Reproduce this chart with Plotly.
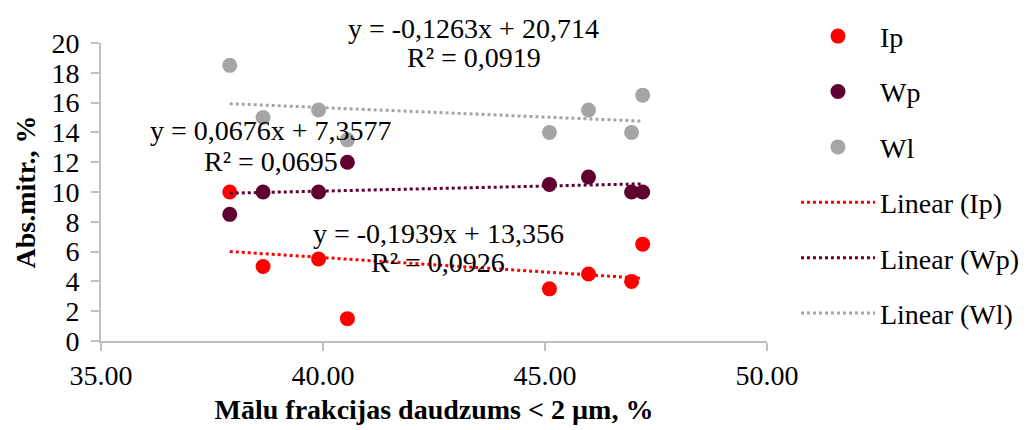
import plotly.graph_objects as go

# Clay fraction content (< 2 µm), %
clay = [37.9, 38.65, 39.9, 40.55, 45.1, 45.98, 46.95, 47.2]

# Moisture indices, %
ip = [10.0, 5.0, 5.5, 1.5, 3.5, 4.5, 4.0, 6.5]
wp = [8.5, 10.0, 10.0, 12.0, 10.5, 11.0, 10.0, 10.0]
wl = [18.5, 15.0, 15.5, 13.5, 14.0, 15.5, 14.0, 16.5]

# Linear trend coefficients (slope, intercept) and R²
fit_ip = (-0.1939, 13.356, 0.0926)
fit_wp = (0.0676, 7.3577, 0.0695)
fit_wl = (-0.1263, 20.714, 0.0919)

C_IP = "#FF0000"
C_WP = "#600030"
C_WL = "#A5A5A5"
FONT = "Liberation Serif"
FS = 28

series = [("Ip", ip, C_IP, fit_ip), ("Wp", wp, C_WP, fit_wp), ("Wl", wl, C_WL, fit_wl)]

fig = go.Figure()

for name, vals, col, _ in series:
    fig.add_trace(go.Scatter(
        x=clay, y=vals, mode="markers", name=name, legendgroup=name,
        marker=dict(color=col, size=15, line=dict(width=0)),
    ))

xmin, xmax = min(clay), max(clay)
for name, vals, col, (k, b, r2) in series:
    fig.add_trace(go.Scatter(
        x=[xmin, xmax], y=[k * xmin + b, k * xmax + b], mode="lines",
        name=f"Linear ({name})", legendgroup="L" + name,
        line=dict(color=col, width=3, dash="dot"),
    ))


def fmt(v, nd):
    return f"{v:.{nd}f}".replace(".", ",")


def eq_text(k, b, kd, bd):
    sign = "+" if b >= 0 else "-"
    return f"y = {fmt(k, kd)}x {sign} {fmt(abs(b), bd)}"


# equation label placement: x in data units, y in paper units
labels = [
    (fit_wl, 4, 3, 43.4, 1.050, 0.953),
    (fit_wp, 4, 4, 38.83, 0.708, 0.601),
    (fit_ip, 4, 3, 42.6, 0.362, 0.262),
]
for (k, b, r2), kd, bd, xc, y1, y2 in labels:
    for yy, txt in ((y1, eq_text(k, b, kd, bd)), (y2, f"R² = {fmt(r2, 4)}")):
        fig.add_annotation(x=xc, y=yy, xref="x", yref="paper", text=txt,
                           xanchor="center", yanchor="middle", showarrow=False,
                           font=dict(family=FONT, size=FS, color="black"))

axis_common = dict(
    showgrid=False, zeroline=False, showline=True, linecolor="#BFBFBF", linewidth=2,
    ticks="outside", tickcolor="#BFBFBF", tickwidth=2, ticklen=8,
    tickfont=dict(family=FONT, size=FS, color="black"),
)

fig.update_layout(
    width=1028, height=430,
    margin=dict(l=101, r=261, t=43, b=89, autoexpand=False),
    paper_bgcolor="white", plot_bgcolor="white",
    font=dict(family=FONT, size=FS, color="black"),
    xaxis=dict(range=[35, 50], dtick=5, tickformat=".2f",
               title=dict(text="<b>Mālu frakcijas daudzums < 2 µm, %</b>", standoff=10,
                          font=dict(family=FONT, size=FS)),
               **axis_common),
    yaxis=dict(range=[0, 20], dtick=2, ticklabelstandoff=6,
               title=dict(text="<b>Abs.mitr., %</b>", standoff=8,
                          font=dict(family=FONT, size=FS)),
               **axis_common),
    legend=dict(x=1.0435, y=1.106, xanchor="left", yanchor="top", itemwidth=74,
                font=dict(family=FONT, size=FS), tracegroupgap=16, maxheight=420,
                bgcolor="rgba(0,0,0,0)"),
)

fig.write_html("out.html")
